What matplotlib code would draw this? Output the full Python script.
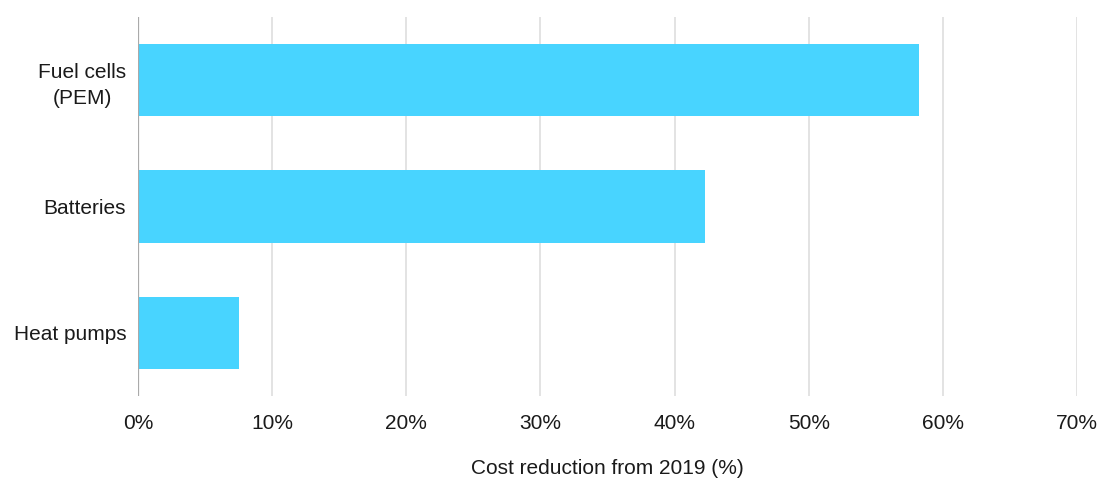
import matplotlib
matplotlib.use("Agg")
import matplotlib.pyplot as plt

categories = ["Fuel cells\n(PEM)", "Batteries", "Heat pumps"]
values = [58.2, 42.3, 7.5]
xticks = [0, 10, 20, 30, 40, 50, 60, 70]
xtick_labels = ["0%", "10%", "20%", "30%", "40%", "50%", "60%", "70%"]
xlabel = "Cost reduction from 2019 (%)"

plt.rcParams['font.family'] = ['Liberation Sans', 'DejaVu Sans']

fig = plt.figure(figsize=(10.99, 4.79), dpi=100)
ax = fig.add_axes([138/1099, 1-396/479, (1077-138)/1099, (396-17)/479])

ypos = list(range(len(categories)))
ax.barh(ypos, values, height=0.571, color="#48D4FF", zorder=3)
ax.set_ylim(len(categories)-0.5, -0.5)
ax.set_xlim(0, 70)
ax.set_yticks(ypos)
ax.set_yticklabels(categories, fontsize=15, color="#1a1a1a", linespacing=1.47,
                   multialignment='center')
ax.set_xticks(xticks)
ax.set_xticklabels(xtick_labels, fontsize=15, color="#1a1a1a")
ax.tick_params(axis='both', length=0)
ax.tick_params(axis='x', pad=13)
ax.tick_params(axis='y', pad=8.5)
for s in ax.spines.values():
    s.set_visible(False)
ax.grid(axis='x', color="#e0e0e0", linewidth=1.3, zorder=0)
ax.axvline(0, color="#aaaaaa", linewidth=1.6, zorder=4)
ax.set_xlabel(xlabel, fontsize=15, color="#1a1a1a", labelpad=19)

fig.savefig("out.png", dpi=100)
